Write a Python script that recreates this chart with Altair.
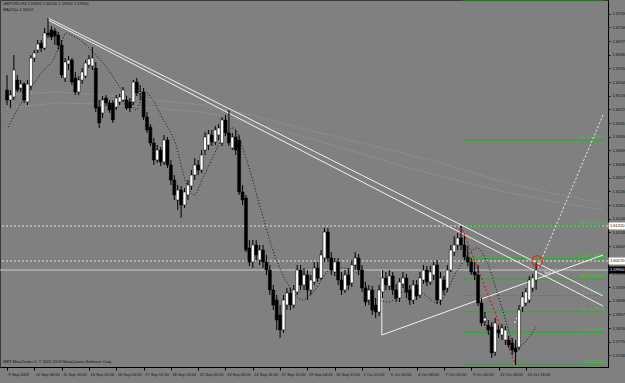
import json
import altair as alt
import pandas as pd

# ---------------- data ----------------
open_ = [1.6530,1.6500,1.6509,1.6560,1.6536,1.6548,1.6494,1.6542,1.6626,1.6650,
1.6671,1.6656,1.6701,1.6710,1.6707,1.6695,1.6665,1.6566,1.6608,1.6620,
1.6566,1.6524,1.6560,1.6572,1.6605,1.6602,1.6596,1.6479,1.6461,1.6506,
1.6491,1.6491,1.6479,1.6494,1.6500,1.6500,1.6494,1.6494,1.6554,1.6521,
1.6524,1.6449,1.6419,1.6371,1.6320,1.6350,1.6314,1.6380,1.6305,1.6260,
1.6200,1.6230,1.6185,1.6215,1.6242,1.6275,1.6305,1.6290,1.6350,1.6365,
1.6395,1.6374,1.6395,1.6371,1.6440,1.6401,1.6356,1.6389,1.6380,1.6224,
1.6206,1.6056,1.6014,1.6065,1.6020,1.6050,1.6014,1.5990,1.5930,1.5900,
1.5855,1.5810,1.5885,1.5921,1.5885,1.5924,1.5990,1.5945,1.5975,1.5930,
1.5954,1.5996,1.5966,1.6026,1.6104,1.6026,1.5984,1.6014,1.5960,1.5930,
1.5975,1.5951,1.6005,1.6026,1.5990,1.5936,1.5900,1.5930,1.5885,1.5864,
1.5924,1.5966,1.5942,1.5972,1.5930,1.5906,1.5948,1.5966,1.5930,1.5900,
1.5945,1.5915,1.5960,1.5990,1.5954,1.5975,1.6005,1.5900,1.5960,1.5936,
1.5990,1.6044,1.6065,1.6086,1.6065,1.6029,1.6014,1.5984,1.5975,1.5891,
1.5837,1.5825,1.5819,1.5744,1.5810,1.5795,1.5780,1.5780,1.5771,1.5756,
1.5759,1.5879,1.5891,1.5900,1.5936,1.5960]
high_ = [1.6575,1.6530,1.6635,1.6575,1.6560,1.6554,1.6560,1.6635,1.6650,1.6680,
1.6680,1.6716,1.6746,1.6722,1.6716,1.6704,1.6680,1.6626,1.6632,1.6626,
1.6584,1.6572,1.6596,1.6620,1.6635,1.6659,1.6614,1.6500,1.6512,1.6515,
1.6500,1.6500,1.6515,1.6518,1.6539,1.6512,1.6506,1.6560,1.6566,1.6545,
1.6536,1.6464,1.6428,1.6386,1.6365,1.6359,1.6395,1.6389,1.6320,1.6275,
1.6245,1.6242,1.6236,1.6260,1.6290,1.6326,1.6320,1.6350,1.6404,1.6410,
1.6410,1.6422,1.6428,1.6449,1.6455,1.6470,1.6401,1.6410,1.6395,1.6245,
1.6215,1.6080,1.6080,1.6080,1.6065,1.6065,1.6035,1.6005,1.5945,1.5915,
1.5885,1.5915,1.5936,1.5936,1.5945,1.6005,1.6005,1.5996,1.5990,1.5975,
1.6014,1.6014,1.6050,1.6116,1.6116,1.6044,1.6026,1.6026,1.5984,1.5990,
1.5996,1.6020,1.6044,1.6038,1.6005,1.5954,1.5945,1.5942,1.5906,1.5945,
1.5990,1.5984,1.5990,1.5984,1.5948,1.5966,1.5984,1.5978,1.5945,1.5960,
1.5960,1.5984,1.6005,1.6002,1.6002,1.6014,1.6020,1.5984,1.5972,1.6005,
1.6065,1.6092,1.6101,1.6122,1.6092,1.6062,1.6026,1.6014,1.6005,1.5906,
1.5864,1.5840,1.5834,1.5846,1.5825,1.5828,1.5822,1.5792,1.5786,1.5780,
1.5885,1.5924,1.5936,1.5972,1.5978,1.6014]
low_ = [1.6485,1.6476,1.6500,1.6524,1.6524,1.6491,1.6485,1.6530,1.6614,1.6641,
1.6644,1.6650,1.6686,1.6680,1.6665,1.6650,1.6566,1.6554,1.6590,1.6545,
1.6515,1.6515,1.6548,1.6566,1.6596,1.6590,1.6464,1.6416,1.6446,1.6482,
1.6461,1.6431,1.6470,1.6485,1.6494,1.6470,1.6464,1.6485,1.6512,1.6500,
1.6440,1.6401,1.6362,1.6305,1.6311,1.6302,1.6305,1.6296,1.6245,1.6200,
1.6170,1.6146,1.6176,1.6200,1.6230,1.6260,1.6275,1.6281,1.6335,1.6350,
1.6362,1.6365,1.6380,1.6362,1.6392,1.6362,1.6350,1.6335,1.6215,1.6185,
1.6044,1.6002,1.5996,1.6020,1.6005,1.5996,1.5975,1.5915,1.5870,1.5810,
1.5786,1.5801,1.5870,1.5870,1.5876,1.5915,1.5930,1.5930,1.5900,1.5915,
1.5945,1.5954,1.5960,1.6014,1.6014,1.5975,1.5972,1.5945,1.5915,1.5921,
1.5930,1.5939,1.5990,1.5975,1.5924,1.5882,1.5885,1.5855,1.5846,1.5852,
1.5906,1.5930,1.5930,1.5915,1.5894,1.5894,1.5936,1.5906,1.5885,1.5888,
1.5900,1.5906,1.5948,1.5942,1.5945,1.5960,1.5888,1.5885,1.5915,1.5924,
1.5984,1.6032,1.6050,1.6050,1.6020,1.6002,1.5975,1.5960,1.5882,1.5822,
1.5822,1.5795,1.5726,1.5732,1.5786,1.5780,1.5765,1.5756,1.5735,1.5705,
1.5750,1.5864,1.5882,1.5891,1.5924,1.5930]
close_ = [1.6500,1.6515,1.6590,1.6530,1.6548,1.6500,1.6548,1.6626,1.6641,1.6668,
1.6656,1.6701,1.6695,1.6689,1.6692,1.6665,1.6575,1.6614,1.6620,1.6554,
1.6524,1.6560,1.6584,1.6611,1.6623,1.6626,1.6476,1.6431,1.6500,1.6491,
1.6470,1.6440,1.6506,1.6509,1.6530,1.6476,1.6476,1.6554,1.6521,1.6524,
1.6449,1.6410,1.6371,1.6320,1.6350,1.6314,1.6380,1.6305,1.6260,1.6215,
1.6230,1.6185,1.6224,1.6245,1.6275,1.6305,1.6290,1.6335,1.6389,1.6398,
1.6374,1.6410,1.6416,1.6440,1.6401,1.6371,1.6389,1.6350,1.6224,1.6200,
1.6050,1.6014,1.6065,1.6035,1.6050,1.6014,1.5990,1.5930,1.5885,1.5840,
1.5810,1.5900,1.5921,1.5885,1.5930,1.5990,1.5945,1.5975,1.5930,1.5960,
1.5996,1.5966,1.6035,1.6104,1.6026,1.5990,1.6014,1.5960,1.5930,1.5975,
1.5945,1.6005,1.6026,1.5990,1.5936,1.5894,1.5930,1.5870,1.5864,1.5930,
1.5966,1.5945,1.5972,1.5930,1.5906,1.5954,1.5966,1.5924,1.5900,1.5945,
1.5912,1.5966,1.5990,1.5954,1.5984,1.6005,1.5900,1.5966,1.5930,1.5990,
1.6050,1.6065,1.6086,1.6065,1.6029,1.6014,1.5984,1.5975,1.5891,1.5831,
1.5846,1.5810,1.5741,1.5831,1.5801,1.5816,1.5810,1.5765,1.5750,1.5744,
1.5870,1.5909,1.5924,1.5960,1.5966,1.5990]

x_labels = ["9 Sep 2009", "10 Sep 08:00", "11 Sep 16:00", "14 Sep 20:00", "16 Sep 04:00",
            "17 Sep 12:00", "18 Sep 20:00", "22 Sep 00:00", "23 Sep 08:00", "24 Sep 16:00",
            "27 Sep 20:00", "29 Sep 04:00", "30 Sep 12:00", "1 Oct 20:00", "5 Oct 00:00",
            "6 Oct 08:00", "7 Oct 16:00", "9 Oct 00:00", "12 Oct 08:00", "13 Oct 16:00"]
x_label_bars = [0, 8, 16, 24, 32, 40, 48, 56, 64, 72, 80, 88, 96, 104, 112, 120, 128, 136, 144, 152]
y_ticks = [1.6759, 1.6718, 1.6677, 1.6636, 1.6595, 1.6554, 1.6513, 1.6472, 1.6431, 1.6390,
           1.6349, 1.6308, 1.6267, 1.6226, 1.6185, 1.6144, 1.6103, 1.6062, 1.6021, 1.5980,
           1.5939, 1.5898, 1.5857, 1.5816, 1.5775, 1.5734]

# moving average (dotted black)
ma_i = [0.3,5.2,10.1,13.8,15.9,17.3,18.7,22.5,25.4,28.2,31.1,34.0,36.0,37.8,39.2,40.3,42.7,45.5,
        49.3,52.7,54.8,57.1,59.9,62.8,66.3,70.0,74.4,78.7,83.0,86.5,90.2,94.5,98.8,103.2,107.5,
        111.8,116.1,120.5,126.2,132.0,137.8,140.6,145.0,149.3,155.0]
ma_p = [1.6419,1.6509,1.6581,1.6626,1.6674,1.6701,1.6695,1.6671,1.6641,1.6611,1.6569,1.6524,
        1.6500,1.6470,1.6500,1.6524,1.6500,1.6446,1.6371,1.6245,1.6215,1.6260,1.6320,1.6380,
        1.6416,1.6326,1.6170,1.6026,1.5936,1.5900,1.5930,1.5990,1.5996,1.5975,1.5906,1.5894,
        1.5924,1.5924,1.5891,1.5990,1.6056,1.6014,1.5876,1.5759,1.5819]
# long moving averages (faint)
slow_i = [0, 13.8, 28.2, 42.7, 57.1, 71.5, 85.9, 100.3, 114.7, 129.1, 143.5, 157.9, 174.6]
slow1_p = [1.6515,1.6524,1.6515,1.6500,1.6485,1.6455,1.6416,1.6380,1.6344,1.6305,1.6260,1.6224,1.6191]
slow2_p = [1.6476,1.6491,1.6488,1.6476,1.6464,1.6434,1.6392,1.6350,1.6305,1.6266,1.6230,1.6200,1.6170]

# trend lines (two points each)
trend_names = ["A", "A", "B", "B", "C", "C", "V", "V"]
trend_i = [12, 174.6, 12, 174.6, 109.8, 174.6, 109.8, 109.8]
trend_p = [1.6746, 1.5912, 1.6740, 1.5882, 1.5795, 1.6035, 1.5990, 1.5795]
proj_i = [148.7, 174.6]
proj_p = [1.5831, 1.6455]
fib_base_i = [133, 149]
fib_base_p = [1.6122, 1.5705]

# fibonacci levels
fib_names = ["0.0", "23.6", "38.2", "50.0", "61.8", "76.4", "100.0", "161.8", "261.8"]
fib_prices = [1.57050, 1.58034, 1.58643, 1.59135, 1.59627, 1.60236, 1.61220, 1.63797, 1.67967]
fib_start = 133.4
fib_end = 174.6

hline_dotted = [1.6122, 1.6017]
bid_price = 1.5990
circle_i, circle_p = 155.3, 1.6017

title1 = "GBPUSD,H4  1.59600 1.60140 1.59300 1.59900"
title2 = "MA(20)= 1.59011"
footer = "MBT MetaTrader 4, \u00a9 2001-2009 MetaQuotes Software Corp."

# ---------------- chart ----------------
W, H = 608, 367
FONT = "Liberation Sans"
FS = 4.0
xs = alt.Scale(domain=[-0.6, 174.6], nice=False, zero=False)
ys = alt.Scale(domain=[1.5699, 1.6800], nice=False, zero=False)

xaxis = alt.Axis(values=x_label_bars,
                 labelExpr=json.dumps(x_labels) + "[round(datum.value/8)]",
                 labelAlign="left", labelOffset=1, labelFontSize=FS, labelColor="#101010",
                 labelFont=FONT, tickSize=3, tickColor="black", domainColor="black",
                 labelPadding=2, grid=False, title=None, labelOverlap=False, labelFlush=False)
yaxis = alt.Axis(orient="right", values=y_ticks, format=".5f", labelFontSize=FS,
                 labelColor="#101010", labelFont=FONT, tickSize=2, labelPadding=2,
                 tickColor="black", domainColor="black", grid=False, title=None,
                 labelOverlap=False, labelFlush=False)


def X(f, **kw):
    return alt.X(f, type="quantitative", scale=xs, axis=xaxis, **kw)


def Y(f, **kw):
    return alt.Y(f, type="quantitative", scale=ys, axis=yaxis, **kw)


candles = pd.DataFrame({"i": list(range(len(open_))), "o": open_, "h": high_,
                        "l": low_, "c": close_})

slow_df = pd.DataFrame({"x": slow_i * 2, "y": slow1_p + slow2_p,
                        "g": ["s1"] * len(slow_i) + ["s2"] * len(slow_i)})
slow = alt.Chart(slow_df).mark_line(color="#a6a6a6", strokeWidth=1, strokeDash=[1, 2]).encode(
    x=X("x"), y=Y("y"), detail="g:N")

ma_df = pd.DataFrame({"x": ma_i, "y": ma_p})
ma = alt.Chart(ma_df).mark_line(color="#111111", strokeWidth=1, strokeDash=[1, 2],
                                interpolate="monotone").encode(x=X("x"), y=Y("y"))

hl_df = pd.DataFrame({"y": hline_dotted})
hdot = alt.Chart(hl_df).mark_rule(color="#e6e6e6", strokeWidth=1, strokeDash=[2, 2]).encode(y=Y("y"))
bid = alt.Chart(pd.DataFrame({"y": [bid_price]})).mark_rule(color="#c8c8c8", strokeWidth=1).encode(y=Y("y"))

fib_df = pd.DataFrame({"name": fib_names, "y": fib_prices,
                       "x1": [fib_start] * len(fib_names), "x2": [fib_end] * len(fib_names)})
fib_df["label"] = [n + " " + f"{p:.5f}" for n, p in zip(fib_names, fib_prices)]
fib_lines = alt.Chart(fib_df).mark_rule(color="#1fb51f", strokeWidth=1).encode(
    x=X("x1"), x2="x2", y=Y("y"))
fib_text = alt.Chart(fib_df).mark_text(color="#2ad02a", fontSize=FS, font=FONT, align="right",
                                       baseline="bottom", dy=-1).encode(
    x=alt.value(605), y=Y("y"), text="label:N")

trend_df = pd.DataFrame({"x": trend_i, "y": trend_p, "g": trend_names})
trend = alt.Chart(trend_df).mark_line(color="#f2f2f2", strokeWidth=1).encode(
    x=X("x"), y=Y("y"), detail="g:N")
proj = alt.Chart(pd.DataFrame({"x": proj_i, "y": proj_p})).mark_line(
    color="#f0f0f0", strokeWidth=1, strokeDash=[2, 2]).encode(x=X("x"), y=Y("y"))
fbase = alt.Chart(pd.DataFrame({"x": fib_base_i, "y": fib_base_p})).mark_line(
    color="#e00000", strokeWidth=1, strokeDash=[2, 2]).encode(x=X("x"), y=Y("y"))

wicks = alt.Chart(candles).mark_rule(color="black", strokeWidth=1).encode(
    x=X("i"), y=Y("l"), y2="h")
bodies = alt.Chart(candles).mark_bar(size=3, stroke="black", strokeWidth=0.5).encode(
    x=X("i"), y=Y("o"), y2="c",
    color=alt.condition("datum.c >= datum.o", alt.value("white"), alt.value("black")))

circle = alt.Chart(pd.DataFrame({"x": [circle_i], "y": [circle_p]})).mark_point(
    shape="circle", filled=False, color="#ff1010", size=110, strokeWidth=1.5).encode(
    x=X("x"), y=Y("y"))
sell = alt.Chart(pd.DataFrame({"x": [157.3], "y": [1.5981], "t": ["Sell 4"]})).mark_text(
    color="#f0f0f0", fontSize=FS, font=FONT, align="left").encode(x=X("x"), y=Y("y"), text="t:N")

box_df = pd.DataFrame({"y": hline_dotted, "t": [f"{v:.5f}" for v in hline_dotted]})
wbox = alt.Chart(box_df).mark_tick(orient="horizontal", color="white", size=17, thickness=7,
                                   opacity=1).encode(x=alt.value(617), y=Y("y"))
wbox_t = alt.Chart(box_df).mark_text(color="black", fontSize=FS, font=FONT, align="left").encode(
    x=alt.value(610), y=Y("y"), text="t:N")
bid_df = pd.DataFrame({"y": [bid_price], "t": [f"{bid_price:.5f}"]})
bbox = alt.Chart(bid_df).mark_tick(orient="horizontal", color="black", size=17, thickness=7,
                                   opacity=1).encode(x=alt.value(617), y=Y("y"))
bbox_t = alt.Chart(bid_df).mark_text(color="white", fontSize=FS, font=FONT, align="left").encode(
    x=alt.value(610), y=Y("y"), text="t:N")

texts_df = pd.DataFrame({"t": [title1, title2, footer], "x": [3, 3, 3], "y": [4, 10, 362]})
texts = alt.Chart(texts_df).mark_text(color="#151515", fontSize=FS, font=FONT, align="left",
                                      baseline="middle").encode(
    x=alt.X("x:Q", scale=None), y=alt.Y("y:Q", scale=None), text="t:N")

chart = alt.layer(
    slow, hdot, bid, fib_lines, fib_text, trend, proj, fbase, ma, wicks, bodies,
    circle, sell, wbox, wbox_t, bbox, bbox_t, texts
).properties(
    width=W, height=H, background="#808080",
    padding={"left": 0, "top": 0, "right": 17, "bottom": 16}, autosize="none"
).configure_view(stroke="#3a3a3a", strokeWidth=1)

chart.save("out.html", embed_options={"renderer": "svg", "actions": False})
